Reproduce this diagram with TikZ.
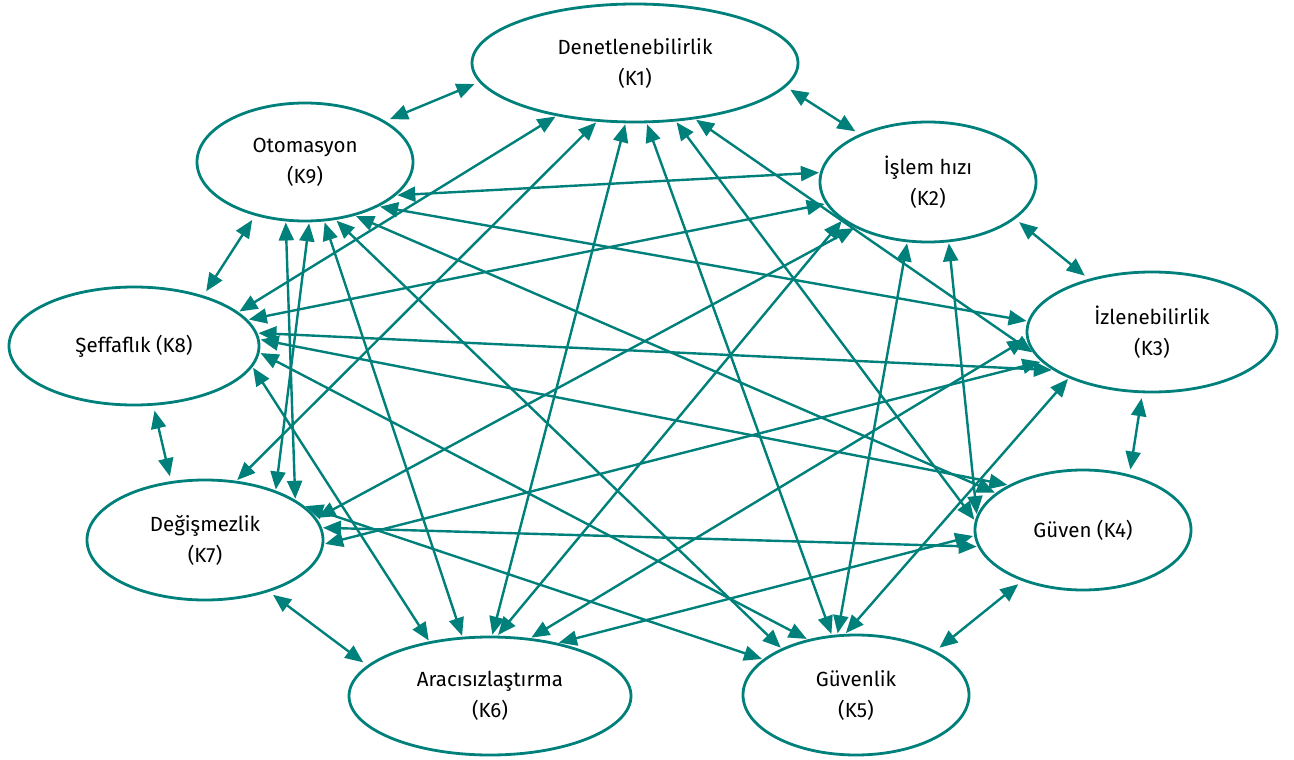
\documentclass[tikz,border=0pt]{standalone}
\usepackage{fontspec}
\setmainfont{Fira Sans}
\usetikzlibrary{arrows.meta,shapes.geometric}
\definecolor{tealc}{RGB}{0,128,122}
\begin{document}
\begin{tikzpicture}[x=1pt,y=-1pt,
  kn/.style={ellipse, draw=tealc, line width=2.8pt, inner sep=0pt, align=center,
    font=\fontsize{20.5}{31}\selectfont, text=black},
  lnk/.style={draw=tealc, line width=2.4pt,
    {Triangle[length=18pt,width=15pt]}-{Triangle[length=18pt,width=15pt]},
    shorten <=1pt, shorten >=1pt},
  sht/.style={lnk, shorten <=5pt, shorten >=5pt}]
\useasboundingbox (0,0) rectangle (1294,760);
\node[kn, minimum width=326pt, minimum height=118pt] (K1) at (635,63) {Denetlenebilirlik\\(K1)};
\node[kn, minimum width=216pt, minimum height=120pt] (K2) at (928,182) {İşlem hızı\\(K2)};
\node[kn, minimum width=250pt, minimum height=120pt] (K3) at (1152,332) {İzlenebilirlik\\(K3)};
\node[kn, minimum width=216pt, minimum height=120pt] (K4) at (1083,530) {Güven (K4)};
\node[kn, minimum width=226pt, minimum height=120pt] (K5) at (856,695) {Güvenlik\\(K5)};
\node[kn, minimum width=282pt, minimum height=118pt] (K6) at (490,696) {Aracısızlaştırma\\(K6)};
\node[kn, minimum width=236pt, minimum height=120pt] (K7) at (205,540) {Değişmezlik\\(K7)};
\node[kn, minimum width=250pt, minimum height=118pt] (K8) at (134,346) {Şeffaflık (K8)};
\node[kn, minimum width=216pt, minimum height=118pt] (K9) at (305,162) {Otomasyon\\(K9)};
% long links
\draw[lnk] (K1.214.7) -- (K8.18.3);
\draw[lnk] (K1.237.2) -- (K7.62.8);
\draw[lnk] (K1.261.1) -- (K6.88);
\draw[lnk] (K1.281.5) -- (K5.112);
\draw[lnk] (K1.305) -- (K4.175.7);
\draw[lnk] (K1.317.6) -- (K3.190.5);
\draw[lnk] (K9.340.1) -- (K2.175.2);
\draw[lnk] (K9.329.7) -- (K3.175.9);
\draw[lnk] (K9.313.6) -- (K4.157.8);
\draw[lnk] (K9.298.3) -- (K5.148.9);
\draw[lnk] (K9.288.7) -- (K6.115);
\draw[lnk] (K9.274.2) -- (K7.35.8);
\draw[lnk] (K9.252.1) -- (K7.24.3);
\draw[lnk] (K2.192.2) -- (K8.13);
\draw[lnk] (K2.204.1) -- (K6.83);
\draw[lnk] (K2.212.4) -- (K7.11.6);
\draw[lnk] (K2.251) -- (K5.107);
\draw[lnk] (K2.289.8) -- (K4.172.2);
\draw[lnk] (K3.183.4) -- (K6.55.4);
\draw[lnk] (K3.195.8) -- (K7.358.6);
\draw[lnk] (K3.201.5) -- (K8.6.9);
\draw[lnk] (K3.209.6) -- (K5.100);
\draw[lnk] (K4.149.5) -- (K8.3.6);
\draw[lnk] (K4.183.5) -- (K6.38.3);
\draw[lnk] (K4.189) -- (K7.6);
\draw[lnk] (K5.159.3) -- (K7.19.9);
\draw[lnk] (K5.131) -- (K8.357.8);
\draw[lnk] (K6.138.8) -- (K8.350.2);
% short links between neighbours
\draw[sht] (K9.27.5) -- (K1.187.6);
\draw[sht] (K1.351.9) -- (K2.145.3);
\draw[sht] (K2.337.5) -- (K3.140.9);
\draw[sht] (K3.261.3) -- (K4.50.4);
\draw[sht] (K4.220.2) -- (K5.29.9);
\draw[sht] (K7.321) -- (K6.166.2);
\draw[sht] (K8.288.2) -- (K7.120.7);
\draw[sht] (K9.227.9) -- (K8.36.7);
\end{tikzpicture}
\end{document}
